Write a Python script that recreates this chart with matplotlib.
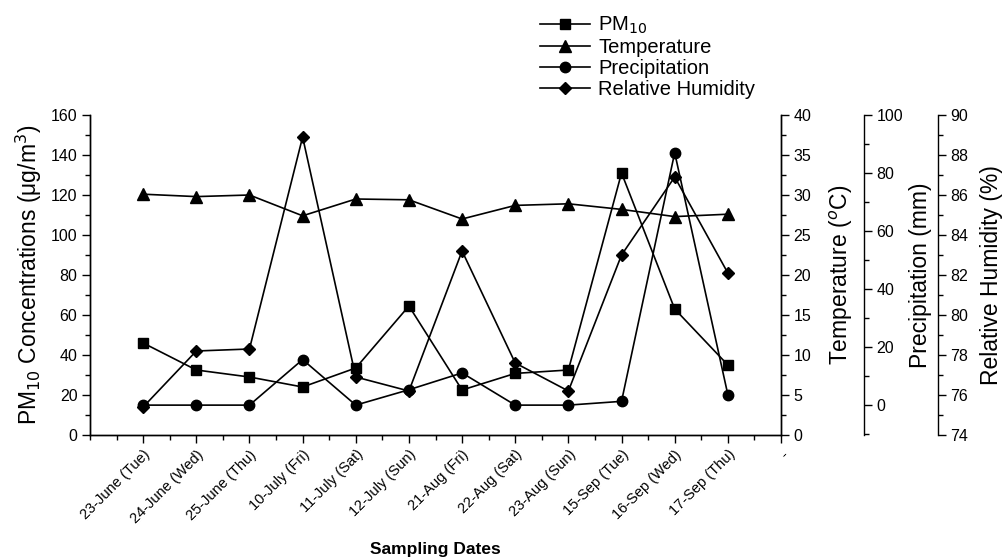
import matplotlib
matplotlib.use("Agg")
import matplotlib.pyplot as plt
from matplotlib.ticker import MultipleLocator, FixedLocator

plt.rcParams['font.family'] = ['Liberation Sans', 'DejaVu Sans']

dates = ["23-June (Tue)", "24-June (Wed)", "25-June (Thu)", "10-July (Fri)",
         "11-July (Sat)", "12-July (Sun)", "21-Aug (Fri)", "22-Aug (Sat)",
         "23-Aug (Sun)", "15-Sep (Tue)", "16-Sep (Wed)", "17-Sep (Thu)"]
pm10 = [46, 32.5, 29, 24, 33.5, 64.5, 22.5, 30.8, 32.5, 131, 63, 35]
temperature = [30.1, 29.8, 30.0, 27.4, 29.5, 29.4, 27.0, 28.7, 28.9, 28.2, 27.3, 27.6]
precipitation = [0, 0, 0, 15.7, 0, 5.3, 11.1, 0, 0, 1.3, 87, 3.6]
humidity = [75.4, 78.2, 78.3, 88.9, 76.9, 76.2, 83.2, 77.6, 76.2, 83.0, 86.9, 82.1]

x = list(range(1, len(dates) + 1))

fig = plt.figure(figsize=(10.08, 5.6), dpi=100)
ax = fig.add_axes([90 / 1008, 125 / 560, 691 / 1008, 320 / 560])
ax_t = ax.twinx()
ax_p = ax.twinx()
ax_h = ax.twinx()
ax_p.spines['right'].set_position(('axes', (864 - 90) / 691))
ax_h.spines['right'].set_position(('axes', (938 - 90) / 691))

line_kw = dict(color='black', lw=1.2, markeredgecolor='black', markerfacecolor='black')
l1, = ax.plot(x, pm10, marker='s', ms=7, label='PM$_{10}$', **line_kw)
l2, = ax_t.plot(x, temperature, marker='^', ms=8.5, label='Temperature', **line_kw)
l3, = ax_p.plot(x, precipitation, marker='o', ms=7.5, label='Precipitation', **line_kw)
l4, = ax_h.plot(x, humidity, marker='D', ms=6.5, label='Relative Humidity', **line_kw)

# x axis
ax.set_xlim(0, 13)
ax.xaxis.set_major_locator(FixedLocator(list(range(1, 14))))
ax.xaxis.set_minor_locator(MultipleLocator(0.5))
ax.set_xticklabels(dates + ["-"], rotation=45, ha='right', rotation_mode='anchor', fontsize=10.5)
ax.set_xlabel("Sampling Dates", fontsize=12.5, fontweight='bold', labelpad=12)

# left axis
ax.set_ylim(0, 160)
ax.yaxis.set_major_locator(MultipleLocator(20))
ax.yaxis.set_minor_locator(MultipleLocator(10))
ax.set_ylabel("PM$_{10}$ Concentrations (\u03bcg/m$^3$)", fontsize=16.5, labelpad=5)

ax_t.set_ylim(0, 40)
ax_t.yaxis.set_major_locator(MultipleLocator(5))
ax_t.yaxis.set_minor_locator(MultipleLocator(2.5))
ax_t.set_ylabel("Temperature ($^o$C)", fontsize=16.5, labelpad=12)

ax_p.set_ylim(-10.3, 100)
ax_p.yaxis.set_major_locator(MultipleLocator(20))
ax_p.yaxis.set_minor_locator(MultipleLocator(10))
ax_p.set_ylabel("Precipitation (mm)", fontsize=16.5, labelpad=4)

ax_h.set_ylim(74, 90)
ax_h.yaxis.set_major_locator(MultipleLocator(2))
ax_h.yaxis.set_minor_locator(MultipleLocator(1))
ax_h.set_ylabel("Relative Humidity (%)", fontsize=16.5, labelpad=8)

for a in (ax, ax_t, ax_p, ax_h):
    a.spines['top'].set_visible(False)
    a.tick_params(which='major', length=6, width=1, pad=3)
    a.tick_params(which='minor', length=3.5, width=1)
    a.tick_params(axis='y', labelsize=11.5)
    for s in a.spines.values():
        s.set_linewidth(1)
for a in (ax_p, ax_h):
    a.spines['left'].set_visible(False)
    a.spines['bottom'].set_visible(False)

fig.legend(handles=[l1, l2, l3, l4], loc='upper left', bbox_to_anchor=(540 / 1008, 1 - 15 / 560),
           frameon=False, fontsize=14.5, handlelength=2.5, labelspacing=0.1,
           handletextpad=0.4, borderaxespad=0, borderpad=0)

fig.savefig("out.png", dpi=100)
